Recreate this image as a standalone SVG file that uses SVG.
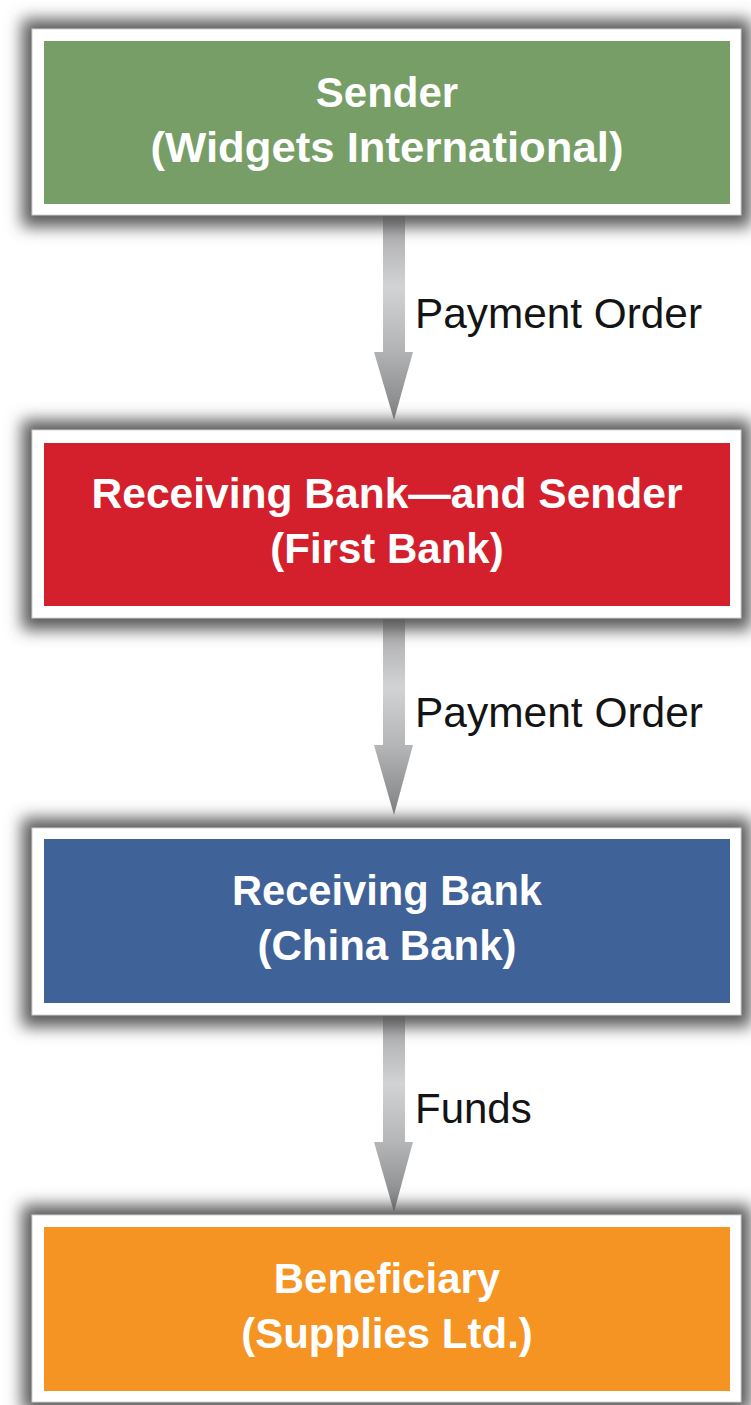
<svg xmlns="http://www.w3.org/2000/svg" width="751" height="1405" viewBox="0 0 751 1405">
<defs>
<filter id="blur" x="-10%" y="-30%" width="120%" height="160%">
<feGaussianBlur stdDeviation="8"/>
</filter>
<linearGradient id="arrowGrad" x1="0" y1="0" x2="0" y2="1">
<stop offset="0" stop-color="#a4a4a6"/>
<stop offset="0.35" stop-color="#d2d3d5"/>
<stop offset="0.65" stop-color="#b4b5b7"/>
<stop offset="1" stop-color="#808183"/>
</linearGradient>
</defs>
<style>
.shadow{fill:#5a5a5a;filter:url(#blur);}
.frame{fill:#ffffff;stroke:#d0d0d0;stroke-width:1;}
.title{font-family:"Liberation Sans",Arial,sans-serif;font-weight:bold;font-size:42px;fill:#ffffff;text-anchor:middle;}
.label{font-family:"Liberation Sans",Arial,sans-serif;font-size:42px;fill:#141414;}
.arrow{fill:url(#arrowGrad);}
</style>
<rect width="751" height="1405" fill="#ffffff"/>

<g id="connectors">
<g id="arrow1">
<polygon class="arrow" points="383,215 405,215 405,352 413,352 394,420 374,352 383,352"/>
<text class="label" x="415" y="328" textLength="287" lengthAdjust="spacingAndGlyphs">Payment Order</text>
</g>
<g id="arrow2">
<polygon class="arrow" points="383,618 405,618 405,745 413,745 394,815 374,745 383,745"/>
<text class="label" x="415" y="727" textLength="288" lengthAdjust="spacingAndGlyphs">Payment Order</text>
</g>
<g id="arrow3">
<polygon class="arrow" points="383,1015 405,1015 405,1142 413,1142 394,1212 374,1142 383,1142"/>
<text class="label" x="415" y="1123">Funds</text>
</g>
</g>

<g id="node-sender">
<rect class="shadow" x="22" y="19" width="729" height="208"/>
<rect class="frame" x="32" y="29" width="709" height="186"/>
<rect x="44" y="41" width="686" height="163" fill="#769e66"/>
<text class="title" x="387" y="107">Sender</text>
<text class="title" x="387" y="162" textLength="473" lengthAdjust="spacingAndGlyphs">(Widgets International)</text>
</g>

<g id="node-first-bank">
<rect class="shadow" x="22" y="420" width="729" height="210"/>
<rect class="frame" x="32" y="430" width="709" height="188"/>
<rect x="44" y="443" width="686" height="163" fill="#d4202c"/>
<text class="title" x="387" y="508" textLength="591" lengthAdjust="spacingAndGlyphs">Receiving Bank—and Sender</text>
<text class="title" x="387" y="563">(First Bank)</text>
</g>

<g id="node-china-bank">
<rect class="shadow" x="22" y="818" width="729" height="209"/>
<rect class="frame" x="32" y="828" width="709" height="187"/>
<rect x="44" y="839" width="686" height="164" fill="#3f6299"/>
<text class="title" x="387" y="905" textLength="310" lengthAdjust="spacingAndGlyphs">Receiving Bank</text>
<text class="title" x="387" y="960">(China Bank)</text>
</g>

<g id="node-beneficiary">
<rect class="shadow" x="22" y="1205" width="729" height="207"/>
<rect class="frame" x="32" y="1215" width="709" height="187"/>
<rect x="44" y="1227" width="686" height="164" fill="#f59423"/>
<text class="title" x="387" y="1293">Beneficiary</text>
<text class="title" x="387" y="1348">(Supplies Ltd.)</text>
</g>
</svg>
